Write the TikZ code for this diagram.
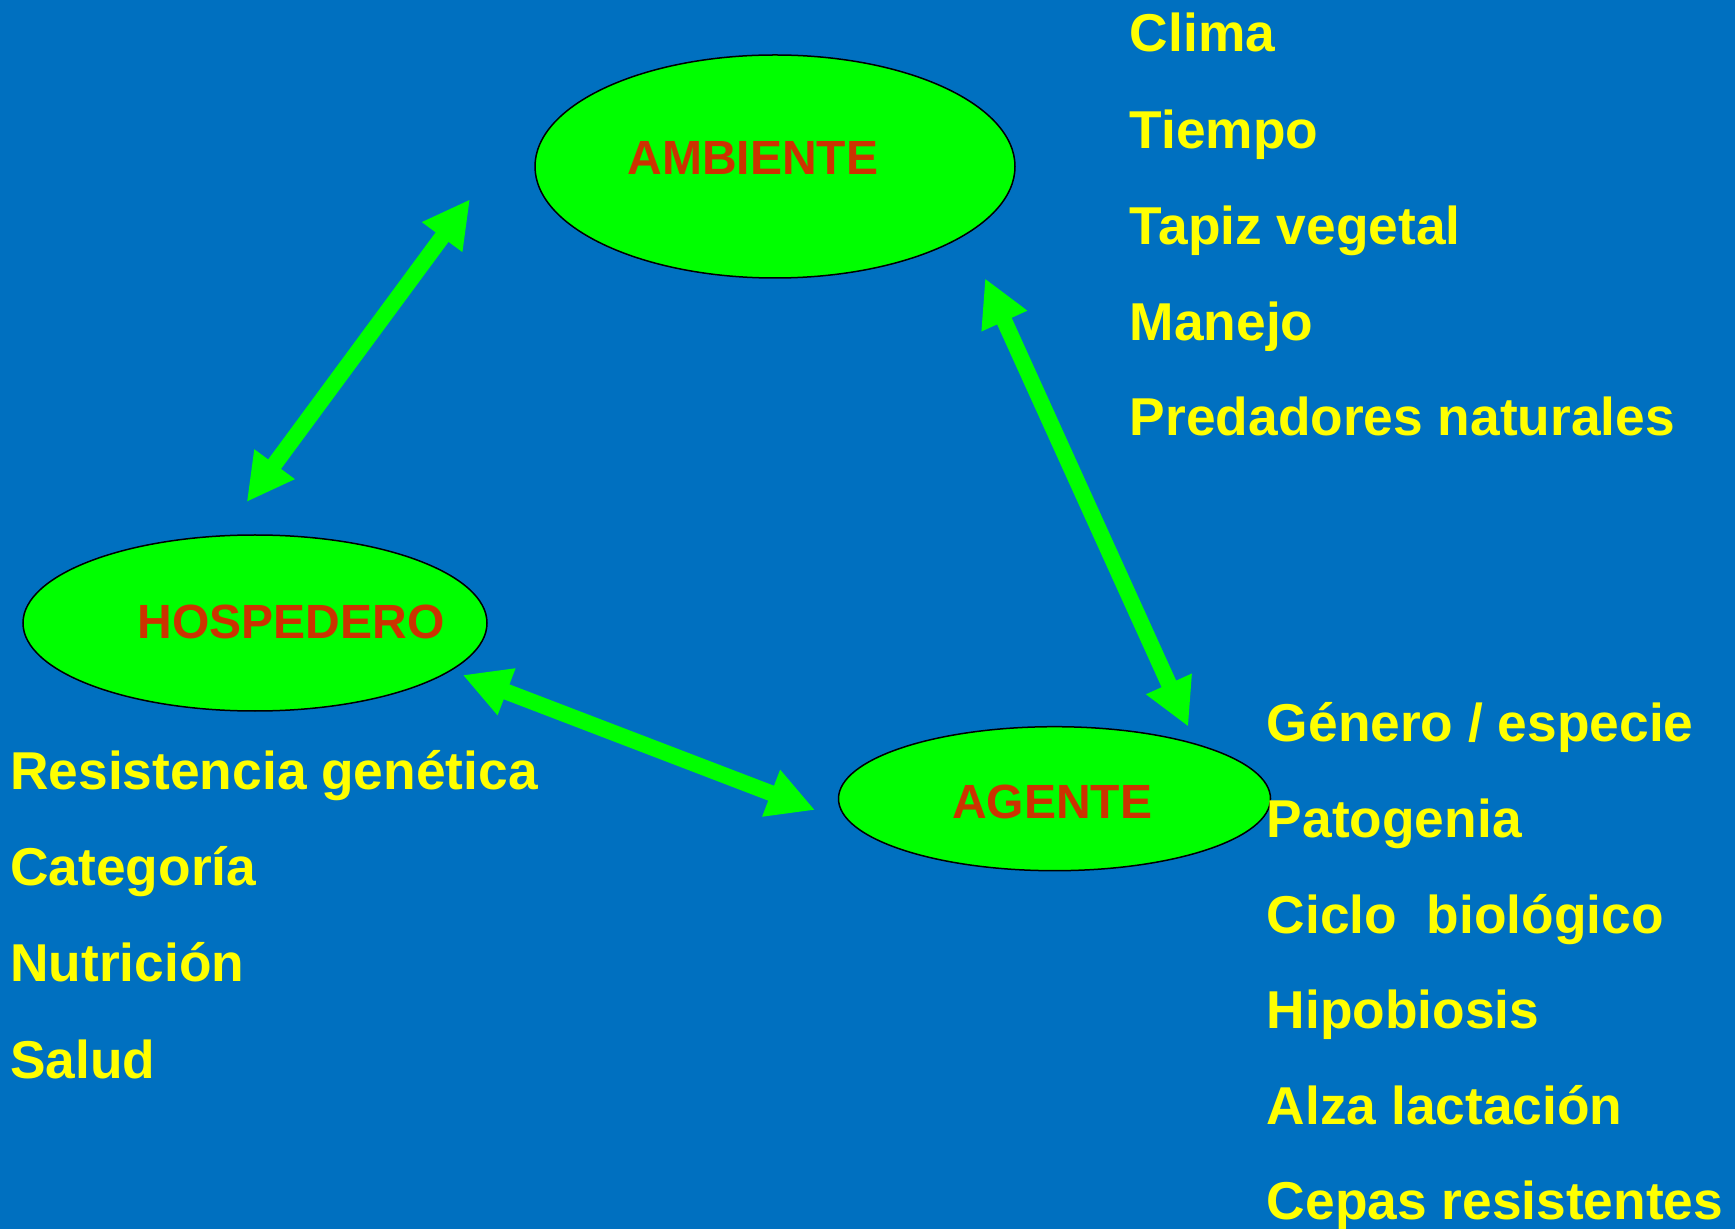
\documentclass[tikz,border=0pt]{standalone}
\usepackage{fontspec}
\setmainfont{Liberation Sans}
\usetikzlibrary{shapes.geometric,arrows.meta}
\definecolor{bgblue}{RGB}{0,112,192}
\definecolor{ellgreen}{RGB}{0,255,0}
\definecolor{labred}{RGB}{204,51,0}
\definecolor{txtyellow}{RGB}{255,255,0}
\tikzset{
  blob/.style={ellipse, draw=black, line width=0.75pt, fill=ellgreen, inner sep=0pt},
  blobtext/.style={anchor=base, inner sep=0pt, text=labred, font=\fontsize{24pt}{28pt}\selectfont\bfseries},
  item/.style={anchor=base west, inner sep=0pt, text=txtyellow, font=\fontsize{26.65pt}{30pt}\selectfont\bfseries},
  link/.style={draw=ellgreen, line width=8pt, {Triangle[length=23.5pt,width=23.5pt]}-{Triangle[length=23.5pt,width=23.5pt]}}
}
\begin{document}
\begin{tikzpicture}[x=0.5pt,y=-0.5pt]
\fill[bgblue] (0,0) rectangle (1735,1229);
\useasboundingbox (0,0) rectangle (1735,1229);

% ellipses
\node[blob, minimum width=480pt/2, minimum height=223pt/2] (amb) at (775,166.5) {};
\node[blob, minimum width=464pt/2, minimum height=176pt/2] (hos) at (255,623) {};
\node[blob, minimum width=432pt/2, minimum height=144pt/2] (age) at (1054.5,798.7) {};

% labels
\node[blobtext] (ambt) at (753,175) {AMBIENTE};
\node[blobtext] (host) at (291,639) {HOSPEDERO};
\node[blobtext] (aget) at (1052,818) {AGENTE};

% arrow endpoints
\coordinate (a1) at (470,199.3);
\coordinate (h1) at (246.7,502);
\coordinate (h2) at (462.7,675);
\coordinate (g2) at (815,810);
\coordinate (a3) at (985,278.3);
\coordinate (g3) at (1188.3,726.7);
\draw[link] (h1) -- (a1);
\draw[link] (h2) -- (g2);
\draw[link] (a3) -- (g3);

% ambiente factors
\node[item] (t1) at (1129.5,51.7) {Clima};
\node[item] (t2) at (1129.5,148.3) {Tiempo};
\node[item] (t3) at (1129.5,245) {Tapiz vegetal};
\node[item] (t4) at (1129.5,340.5) {Manejo};
\node[item] (t5) at (1129.5,436) {Predadores naturales};

% hospedero factors
\node[item] (l1) at (10,789) {Resistencia genética};
\node[item] (l2) at (10,885) {Categoría};
\node[item] (l3) at (10,981.5) {Nutrición};
\node[item] (l4) at (10,1078) {Salud};

% agente factors
\node[item] (r1) at (1266.5,741) {Género / especie};
\node[item] (r2) at (1266.5,837) {Patogenia};
\node[item] (r3) at (1266.5,933) {Ciclo \ biológico};
\node[item] (r4) at (1266.5,1028.5) {Hipobiosis};
\node[item] (r5) at (1266.5,1124.5) {Alza lactación};
\node[item] (r6) at (1266.5,1219) {Cepas resistentes};
\end{tikzpicture}
\end{document}
